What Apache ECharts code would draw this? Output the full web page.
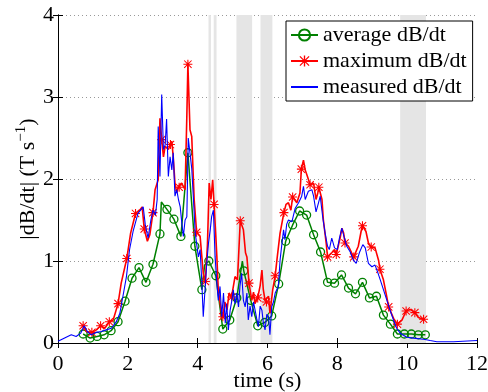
<!DOCTYPE html>
<html><head><meta charset="utf-8">
<script src="https://cdn.jsdelivr.net/npm/echarts@6/dist/echarts.min.js"></script>
<style>html,body{margin:0;padding:0;background:#fff}#c{width:488px;height:392px}</style>
</head><body><div id="c"></div>
<script>
// x tick labels / y tick labels
const xTicks = [0, 2, 4, 6, 8, 10, 12];
const yTicks = [0, 1, 2, 3, 4];

// shaded time intervals (s)
const bandStart = [4.31, 4.46, 5.11, 5.80, 9.80];
const bandEnd   = [4.38, 4.54, 5.56, 6.14, 10.54];

// average dB/dt (markers where avgMark = 1)
const avgT = [0.72,0.92,1.12,1.32,1.52,1.72,1.92,2.12,2.32,2.52,2.72,2.92,2.96,3.12,3.32,3.52,3.72,3.92,4.12,4.20,4.32,4.52,4.72,4.92,5.12,5.28,5.32,5.52,5.72,5.92,6.12,6.32,6.52,6.72,6.92,7.12,7.32,7.52,7.72,7.92,8.12,8.32,8.52,8.72,8.92,9.12,9.32,9.52,9.72,9.92,10.12,10.32,10.52];
const avgV = [0.11,0.06,0.08,0.10,0.15,0.26,0.51,0.79,0.92,0.74,0.96,1.33,1.72,1.63,1.51,1.30,2.32,1.18,0.65,0.95,1.00,0.82,0.17,0.28,0.55,1.00,0.88,0.52,0.21,0.25,0.33,0.72,1.24,1.44,1.61,1.56,1.32,1.11,0.74,0.73,0.83,0.67,0.60,0.74,0.55,0.57,0.34,0.23,0.11,0.11,0.11,0.10,0.10];
const avgMark = [1,1,1,1,1,1,1,1,1,1,1,1,0,1,1,1,1,1,1,0,1,1,1,1,1,0,1,1,1,1,1,1,1,1,1,1,1,1,1,1,1,1,1,1,1,1,1,1,1,1,1,1,1];

// maximum dB/dt (markers where maxMark = 1)
const maxT = [0.72,0.81,0.97,1.10,1.22,1.34,1.47,1.58,1.72,1.81,1.97,2.08,2.22,2.34,2.41,2.47,2.56,2.63,2.72,2.78,2.87,2.92,2.97,3.02,3.07,3.16,3.22,3.26,3.30,3.35,3.40,3.45,3.47,3.54,3.59,3.64,3.69,3.72,3.78,3.83,3.90,3.97,4.07,4.12,4.16,4.22,4.28,4.33,4.38,4.43,4.47,4.52,4.55,4.59,4.67,4.72,4.78,4.84,4.90,4.97,5.07,5.14,5.22,5.31,5.37,5.41,5.47,5.55,5.60,5.64,5.72,5.79,5.84,5.88,5.93,5.97,6.03,6.07,6.15,6.22,6.28,6.36,6.47,6.53,6.60,6.67,6.72,6.84,6.93,6.97,7.03,7.08,7.13,7.22,7.32,7.39,7.44,7.47,7.56,7.60,7.68,7.72,7.84,7.92,7.97,8.08,8.13,8.18,8.22,8.32,8.41,8.47,8.60,8.68,8.72,8.82,8.89,8.97,9.08,9.18,9.22,9.32,9.40,9.47,9.61,9.72,9.85,9.97,10.09,10.22,10.32,10.47];
const maxV = [0.21,0.14,0.13,0.16,0.21,0.18,0.26,0.28,0.48,0.73,1.03,1.34,1.58,1.62,1.66,1.39,1.24,1.32,1.59,1.87,1.99,2.74,2.48,2.27,2.40,2.36,2.42,2.46,2.27,1.95,1.83,1.91,1.90,1.95,1.91,1.87,2.77,3.40,2.60,2.52,1.75,1.35,1.30,1.05,0.85,0.75,1.20,1.95,1.75,1.99,1.69,1.30,1.05,0.65,0.40,0.32,0.50,0.40,0.61,0.56,0.81,0.77,1.49,1.38,1.10,1.05,0.73,0.52,0.62,0.48,0.55,0.70,0.89,0.65,0.52,0.50,0.57,0.36,0.65,0.82,1.05,1.34,1.59,1.69,1.71,1.62,1.78,1.71,1.83,2.12,2.23,2.11,2.05,1.93,1.95,1.75,1.83,1.90,1.75,1.50,1.22,1.05,1.10,1.14,1.08,1.28,1.40,1.34,1.22,1.18,1.10,1.05,1.18,1.36,1.43,1.36,1.22,1.17,1.16,1.01,0.90,0.77,0.60,0.44,0.30,0.23,0.28,0.39,0.41,0.37,0.31,0.29];
const maxMark = [1,0,1,0,1,0,1,0,1,0,1,0,1,0,0,1,0,0,1,0,0,0,1,0,0,0,1,0,0,0,0,0,1,0,0,0,0,1,0,0,0,1,0,0,0,1,0,0,0,0,1,0,0,0,0,1,0,0,0,1,0,0,1,0,0,0,1,0,0,0,1,0,0,0,0,1,0,0,0,1,0,0,1,0,0,0,1,0,0,1,0,0,0,1,0,0,0,1,0,0,0,1,0,0,1,0,0,0,1,0,0,1,0,0,1,0,0,1,0,0,1,0,0,1,0,1,0,1,0,1,0,1];

// measured dB/dt
const measT = [0,0.19,0.38,0.52,0.65,0.75,0.84,0.95,1.10,1.24,1.38,1.53,1.67,1.77,1.86,1.96,2.05,2.15,2.29,2.44,2.50,2.58,2.66,2.72,2.79,2.84,2.87,2.92,2.97,3.02,3.07,3.11,3.16,3.21,3.26,3.30,3.35,3.40,3.45,3.50,3.55,3.59,3.64,3.69,3.73,3.78,3.83,3.88,3.93,4.02,4.07,4.12,4.16,4.21,4.26,4.31,4.36,4.40,4.45,4.50,4.55,4.59,4.64,4.69,4.74,4.79,4.83,4.88,4.93,4.98,5.02,5.07,5.12,5.17,5.21,5.26,5.31,5.36,5.41,5.45,5.50,5.55,5.60,5.64,5.69,5.74,5.79,5.84,5.88,5.93,5.98,6.03,6.07,6.12,6.17,6.22,6.31,6.36,6.41,6.46,6.50,6.55,6.60,6.70,6.79,6.89,6.98,7.03,7.08,7.17,7.27,7.32,7.39,7.46,7.51,7.58,7.65,7.72,7.77,7.84,7.92,8.00,8.06,8.13,8.19,8.27,8.37,8.46,8.54,8.63,8.73,8.80,8.89,8.99,9.08,9.15,9.23,9.32,9.42,9.51,9.61,9.70,9.80,9.99,10.18,10.47,10.66,10.85,11.33,12.0];
const measV = [0.02,0.06,0.10,0.08,0.12,0.21,0.14,0.10,0.13,0.14,0.16,0.18,0.26,0.36,0.57,0.81,1.14,1.36,1.58,1.66,1.44,1.28,1.50,1.62,1.56,1.75,2.64,2.03,3.03,2.36,2.42,2.73,2.03,2.27,2.11,2.32,1.79,1.87,1.75,1.66,1.45,1.30,1.50,1.54,2.50,2.50,2.13,1.75,1.34,1.05,1.14,0.73,0.32,0.65,0.97,1.22,1.38,1.54,1.62,1.05,0.73,0.52,0.69,0.32,0.61,0.24,0.48,0.16,0.40,0.52,0.65,0.48,0.61,0.44,0.69,0.85,0.52,0.44,0.61,0.28,0.45,0.32,0.50,0.48,0.30,0.20,0.45,0.40,0.25,0.16,0.35,0.32,0.10,0.44,0.50,0.61,0.69,1.01,1.20,1.38,1.26,1.45,1.50,1.48,1.64,1.71,1.79,1.91,1.75,1.85,1.87,1.79,1.60,1.71,1.79,1.54,1.34,1.18,1.14,1.28,1.16,1.14,1.28,1.40,1.30,1.18,1.11,1.01,0.97,1.10,1.20,1.16,0.97,0.93,0.95,0.87,0.77,0.65,0.52,0.40,0.28,0.18,0.12,0.07,0.06,0.045,0.03,0.016,0.016,0.03];

const FONT = 'Liberation Serif';
const STAR = 'path://M4.4,0 L5.6,0 L5.6,10 L4.4,10 Z M0,4.4 L10,4.4 L10,5.6 L0,5.6 Z M0.5,1.3 L1.3,0.5 L9.5,8.7 L8.7,9.5 Z M8.7,0.5 L9.5,1.3 L1.3,9.5 L0.5,8.7 Z';

function build(ts, vs, marks) {
  return ts.map((t, i) => {
    const item = { value: [t, vs[i]] };
    if (marks && !marks[i]) item.symbol = 'none';
    return item;
  });
}

const chart = echarts.init(document.getElementById('c'), null, { renderer: 'canvas' });
const axisText = { fontFamily: FONT, fontSize: 22, color: '#000' };
const bands = bandStart.map((s, i) => [{ xAxis: s }, { xAxis: bandEnd[i] }]);

chart.setOption({
  animation: false,
  backgroundColor: '#fff',
  grid: { left: 58, right: 11, top: 15, bottom: 49, outerBoundsMode: 'none', containLabel: false },
  legend: {
    left: 286, top: 21, orient: 'vertical',
    backgroundColor: '#fff', borderColor: '#000', borderWidth: 1,
    padding: [3, 6, 3, 4], itemGap: 4, itemWidth: 27, itemHeight: 14,
    textStyle: { fontFamily: FONT, fontSize: 22, color: '#000', lineHeight: 22 },
    data: ['average dB/dt', 'maximum dB/dt', { name: 'measured dB/dt', itemStyle: { opacity: 0 } }]
  },
  xAxis: [{
    type: 'value', min: xTicks[0], max: xTicks[xTicks.length - 1], interval: 2, position: 'bottom',
    name: 'time (s)', nameLocation: 'middle', nameGap: 27, nameMoveOverlap: false,
    nameTextStyle: { fontFamily: FONT, fontSize: 22, color: '#000' },
    axisLine: { show: true, lineStyle: { color: '#000', width: 1 } },
    axisTick: { show: true, inside: true, length: 5, lineStyle: { color: '#000' } },
    axisLabel: Object.assign({ margin: 10 }, axisText),
    splitLine: { show: false }
  }, {
    type: 'value', min: 0, max: 12, interval: 2, position: 'top',
    axisLine: { show: true, lineStyle: { color: '#000', width: 1 } },
    axisTick: { show: true, inside: true, length: 5, lineStyle: { color: '#000' } },
    axisLabel: { show: false }, splitLine: { show: false }
  }],
  yAxis: [{
    type: 'value', min: yTicks[0], max: yTicks[yTicks.length - 1], interval: 1, position: 'left',
    name: '{a||dB/dt| (T s}{b|−1}{a|)}', nameLocation: 'middle', nameGap: 15, nameRotate: 90, nameMoveOverlap: false,
    nameTextStyle: {
      fontFamily: FONT, color: '#000',
      rich: {
        a: { fontFamily: FONT, fontSize: 22, color: '#000' },
        b: { fontFamily: FONT, fontSize: 15, color: '#000', padding: [0, 0, 14, 0] }
      }
    },
    axisLine: { show: true, lineStyle: { color: '#000', width: 1 } },
    axisTick: { show: true, inside: true, length: 5, lineStyle: { color: '#000' } },
    axisLabel: Object.assign({ margin: 4 }, axisText),
    splitLine: { show: true, lineStyle: { color: '#999', type: [1, 3], width: 1 } }
  }, {
    type: 'value', min: 0, max: 4, interval: 1, position: 'right',
    axisLine: { show: true, lineStyle: { color: '#000', width: 1 } },
    axisTick: { show: true, inside: true, length: 5, lineStyle: { color: '#000' } },
    axisLabel: { show: false }, splitLine: { show: false }
  }],
  series: [{
    name: 'average dB/dt', type: 'line', xAxisIndex: 0, yAxisIndex: 0,
    data: build(avgT, avgV, avgMark),
    symbol: 'circle', symbolSize: 8, showSymbol: true, showAllSymbol: true,
    lineStyle: { color: '#008000', width: 1.5 },
    itemStyle: { color: 'rgba(255,255,255,0)', borderColor: '#008000', borderWidth: 1.3 },
    markArea: { silent: true, itemStyle: { color: '#e5e5e5' }, data: bands },
    z: 2
  }, {
    name: 'maximum dB/dt', type: 'line', xAxisIndex: 0, yAxisIndex: 0,
    data: build(maxT, maxV, maxMark),
    symbol: STAR, symbolSize: 9, showSymbol: true, showAllSymbol: true,
    lineStyle: { color: '#ff0000', width: 1.6 },
    itemStyle: { color: '#ff0000' },
    z: 3
  }, {
    name: 'measured dB/dt', type: 'line', xAxisIndex: 0, yAxisIndex: 0,
    data: build(measT, measV, null),
    symbol: 'none', showSymbol: false,
    lineStyle: { color: '#0000ff', width: 1.1 },
    itemStyle: { color: '#0000ff' },
    z: 4
  }]
});
</script>
</body></html>
